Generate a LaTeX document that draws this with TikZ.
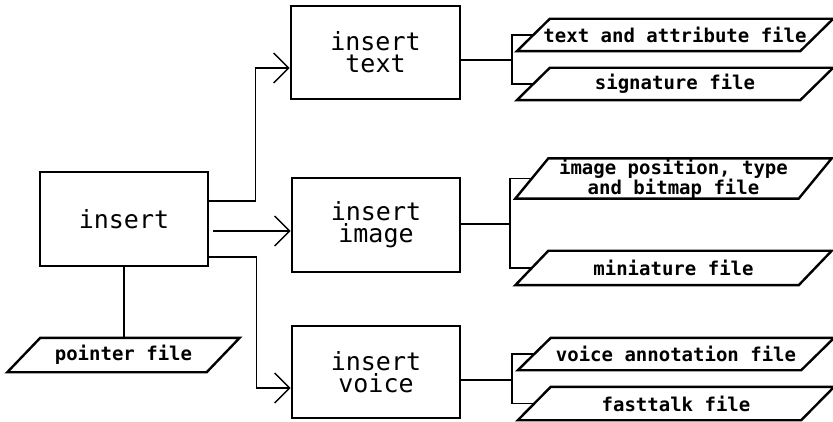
\documentclass[tikz,border=0pt]{standalone}
\usepackage{fontspec}
\usetikzlibrary{arrows.meta}
\newfontfamily\boxfont{DejaVu Sans Mono}
\newfontfamily\filefont{DejaVu Sans Mono}
\tikzset{
  procbox/.style={draw, line width=2.8pt, inner sep=0pt, align=center,
    font=\boxfont\fontsize{25}{22}\selectfont},
  filetext/.style={inner sep=0pt, align=center,
    font=\filefont\bfseries\fontsize{19}{15}\selectfont},
  fileborder/.style={draw, line width=2.4pt, line join=miter},
  conn/.style={draw, line width=1.4pt},
  arr/.style={conn, -{Straight Barb[length=15pt,width=30pt,line width=1.4pt]}}
}
\newcommand\filebox[6]{% name, cx, cy, w, h, text
  \node[filetext, minimum width=#4pt, minimum height=#5pt] (#1) at (#2,#3) {#6};
  \draw[fileborder] ([xshift=-16.5pt]#1.south west) -- ([xshift=-16.5pt]#1.south east)
     -- ([xshift=16.5pt]#1.north east) -- ([xshift=16.5pt]#1.north west) -- cycle;
}
\begin{document}
\begin{tikzpicture}[x=1pt,y=-1pt]
\useasboundingbox (0,0) rectangle (833,422);
% process boxes
\node[procbox, minimum width=168pt, minimum height=94pt] (I) at (124,219) {insert};
\node[procbox, minimum width=169pt, minimum height=93pt] (T) at (375.5,52.5) {insert\\text};
\node[procbox, minimum width=168pt, minimum height=94pt] (M) at (376,225) {insert\\image};
\node[procbox, minimum width=168pt, minimum height=92pt] (V) at (376,372) {insert\\voice};
% files
\filebox{P}{123.5}{355}{199}{34}{pointer file}
\filebox{F1}{675}{35}{283}{32}{text and attribute file}
\filebox{F2}{675}{84}{283}{32}{signature file}
\filebox{F3}{673.5}{178.5}{283}{33}{image position, type\\and bitmap file}
\filebox{F4}{673.5}{268}{283}{34}{miniature file}
\filebox{F5}{676}{354}{283}{32}{voice annotation file}
\filebox{F6}{676}{403.5}{283}{33}{fasttalk file}
% arrows from insert
\draw[arr] ([yshift=18pt]I.east) -- ++(46,0) |- ([yshift=-15.5pt]T.west);
\draw[arr] ([xshift=4pt,yshift=-12pt]I.east) -- ([yshift=-6pt]M.west);
\draw[arr] ([yshift=-38pt]I.east) -- ++(47,0) |- ([yshift=-16pt]V.west);
\draw[conn] (I.south) -- (I.south |- P.north);
% branches to files
\coordinate (tj) at (512,60);
\coordinate (mj) at (510,224);
\coordinate (vj) at (512,380);
\draw[conn] (T.east |- tj) -- (tj);
\draw[conn] (F1.west) -| (tj) |- (F2.west);
\draw[conn] (M.east |- mj) -- (mj);
\draw[conn] (F3.west) -| (mj) |- (F4.west);
\draw[conn] (V.east |- vj) -- (vj);
\draw[conn] (F5.west) -| (vj) |- (F6.west);
\end{tikzpicture}
\end{document}
